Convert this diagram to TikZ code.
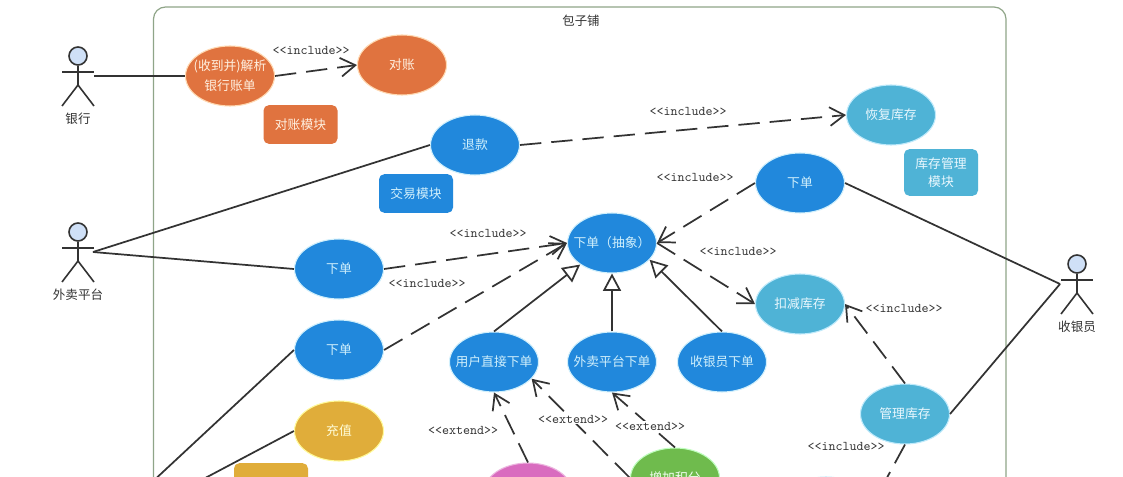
\documentclass[tikz,border=0pt]{standalone}
\usepackage{fontspec}
\setmainfont{Noto Sans CJK SC}
\usetikzlibrary{shapes.geometric,arrows.meta}
\definecolor{cblue}{HTML}{2188DC}
\definecolor{corange}{HTML}{E0733F}
\definecolor{cteal}{HTML}{4FB3D6}
\definecolor{cyellow}{HTML}{E0AD3A}
\definecolor{cpink}{HTML}{D96CBF}
\definecolor{cgreen}{HTML}{6FBB4D}
\definecolor{cline}{HTML}{333333}
\definecolor{cframe}{HTML}{8FA588}
\definecolor{cactor}{HTML}{CFE0F7}
\newcommand{\tx}[1]{\makebox[0pt]{#1}}
\tikzset{
  x=0.75pt,y=-0.75pt,
  uc/.style={ellipse,minimum width=66.75pt,minimum height=45pt,inner sep=0pt,align=center,
    font=\fontsize{9.6pt}{15pt}\selectfont,line width=0.8pt},
  ucblue/.style={uc,fill=cblue,draw=cyan!18,text=cyan!18},
  ucorange/.style={uc,fill=corange,draw=orange!30,text=orange!12},
  ucteal/.style={uc,fill=cteal,draw=cyan!25,text=cyan!8},
  ucyellow/.style={uc,fill=cyellow,draw=yellow!40,text=yellow!15},
  ucpink/.style={uc,fill=cpink,draw=cpink!50},
  ucgreen/.style={uc,fill=cgreen,draw=green!25,text=green!6},
  module/.style={rectangle,rounded corners=4pt,minimum width=55.5pt,minimum height=29pt,inner sep=0pt,
    align=center,font=\fontsize{9.6pt}{14pt}\selectfont},
  assoc/.style={draw=cline,line width=1.3pt},
  dep/.style={draw=cline,line width=1.3pt,dash pattern=on 16pt off 7.5pt,
    -{Straight Barb[length=11pt,width=14pt,line width=1.3pt]}},
  gen/.style={draw=cline,line width=1.3pt,
    -{Triangle[open,length=13pt,width=13.5pt,line width=1.3pt,fill=white]}},
  stereo/.style={font=\fontsize{10pt}{11pt}\ttfamily,text=cline,fill=white,inner sep=0.5pt},
  actorhead/.style={circle,minimum size=13.5pt,inner sep=0pt,draw=cline,line width=1.2pt,fill=cactor},
  actorname/.style={font=\fontsize{9.4pt}{11pt}\selectfont,text=cline,inner sep=0pt},
  limb/.style={draw=cline,line width=1.2pt},
}
\newcommand{\stickman}[4]{%
  \node[actorhead] (#1) at (#2,#3) {};
  \draw[limb] (#2-16,#3+16) -- (#2+16,#3+16);
  \draw[limb] (#1.south) -- (#2,#3+29) -- (#2-16,#3+50);
  \draw[limb] (#2,#3+29) -- (#2+16,#3+50);
  \node[actorname] (#1name) at (#2,#3+63) {#4};
}
\begin{document}
\begin{tikzpicture}
\useasboundingbox (0,0) rectangle (1123,477);
\clip (0,0) rectangle (1123,477);
\fill[white] (0,0) rectangle (1123,477);
\draw[cframe,line width=0.9pt,rounded corners=9pt] (153.5,7) rectangle (1006,560);
\node[font=\fontsize{9.3pt}{11pt}\selectfont,text=cline,inner sep=0pt] (title) at (581,21) {包子铺};

% actors
\stickman{bank}{78}{56}{银行}
\stickman{platform}{78}{232}{外卖平台}
\stickman{cashier}{1077}{264}{收银员}
\coordinate (bankhand) at (94,76);
\coordinate (platformhand) at (93,252);
\coordinate (cashierhand) at (1060,284);
\coordinate (lowerhand) at (92,538);

% use cases
\node[ucorange] (parse) at (230,76) {\tx{(收到并)解析}\\\tx{银行账单}};
\node[ucorange] (recon) at (402,65) {对账};
\node[ucblue] (refund) at (475,145) {退款};
\node[ucteal] (restore) at (891,115) {\tx{恢复库存}};
\node[ucblue] (orderR) at (800,183) {下单};
\node[ucblue] (orderA) at (612,243) {\tx{下单（抽象）}};
\node[ucteal] (deduct) at (800,304) {\tx{扣减库存}};
\node[ucblue] (orderP) at (339,269) {下单};
\node[ucblue] (orderL) at (339,350) {下单};
\node[ucblue] (direct) at (494,362) {\tx{用户直接下单}};
\node[ucblue] (viaplat) at (612,362) {\tx{外卖平台下单}};
\node[ucblue] (viacash) at (722,362) {\tx{收银员下单}};
\node[ucteal] (manage) at (905,414) {\tx{管理库存}};
\node[ucyellow] (topup) at (339,431) {充值};
\node[ucpink] (pink) at (528,493) {};
\node[ucgreen] (points) at (675,478) {\tx{增加积分}};
\node[ucteal] (lowerstock) at (826,507) {};

% modules
\node[module,fill=corange,text=orange!12] (modA) at (300.5,124.5) {对账模块};
\node[module,fill=cblue,text=cyan!18] (modB) at (416,193.5) {交易模块};
\node[module,fill=cteal,text=cyan!8,minimum height=35pt] (modC) at (941,172.5) {库存管理\\模块};
\node[module,fill=cyellow] (modD) at (271,482.5) {};

% associations
\draw[assoc] (bankhand) -- (parse.west);
\draw[assoc] (platformhand) -- (refund.west);
\draw[assoc] (platformhand) -- (orderP.west);
\draw[assoc] (lowerhand) -- (orderL.west);
\draw[assoc] (lowerhand) -- (topup.west);
\draw[assoc] (cashierhand) -- (orderR.east);
\draw[assoc] (cashierhand) -- (manage.east);

% include / extend
\draw[dep] (parse.east) -- (recon.west);
\draw[dep] (refund.east) -- (restore.west);
\draw[dep] (orderP.east) -- (orderA.west);
\draw[dep] (orderL.east) -- (orderA.west);
\draw[dep] (orderR.west) -- (orderA.east);
\draw[dep] (orderA.east) -- (deduct.west);
\draw[dep] (manage.north) -- (deduct.east);
\draw[dep] (manage.south) -- (lowerstock.east);
\draw[dep] (pink.north) -- (direct.south);
\draw[dep] (points.west) -- (direct.-24);
\draw[dep] (points.north) -- (viaplat.south);

% generalisation
\draw[gen] (direct.north) -- (orderA.south west);
\draw[gen] (viaplat.north) -- (orderA.south);
\draw[gen] (viacash.north) -- (orderA.-24);

% stereotypes
\node[stereo] (s1) at (311,50) {<{}<include>{}>};
\node[stereo] (s2) at (688,111) {<{}<include>{}>};
\node[stereo] (s3) at (695,177) {<{}<include>{}>};
\node[stereo] (s4) at (488,233) {<{}<include>{}>};
\node[stereo] (s5) at (427,283) {<{}<include>{}>};
\node[stereo] (s6) at (738,251) {<{}<include>{}>};
\node[stereo] (s7) at (904,308) {<{}<include>{}>};
\node[stereo] (s8) at (846,446) {<{}<include>{}>};
\node[stereo] (s9) at (463,430) {<{}<extend>{}>};
\node[stereo] (s10) at (573,419) {<{}<extend>{}>};
\node[stereo] (s11) at (650,426) {<{}<extend>{}>};
\end{tikzpicture}
\end{document}
